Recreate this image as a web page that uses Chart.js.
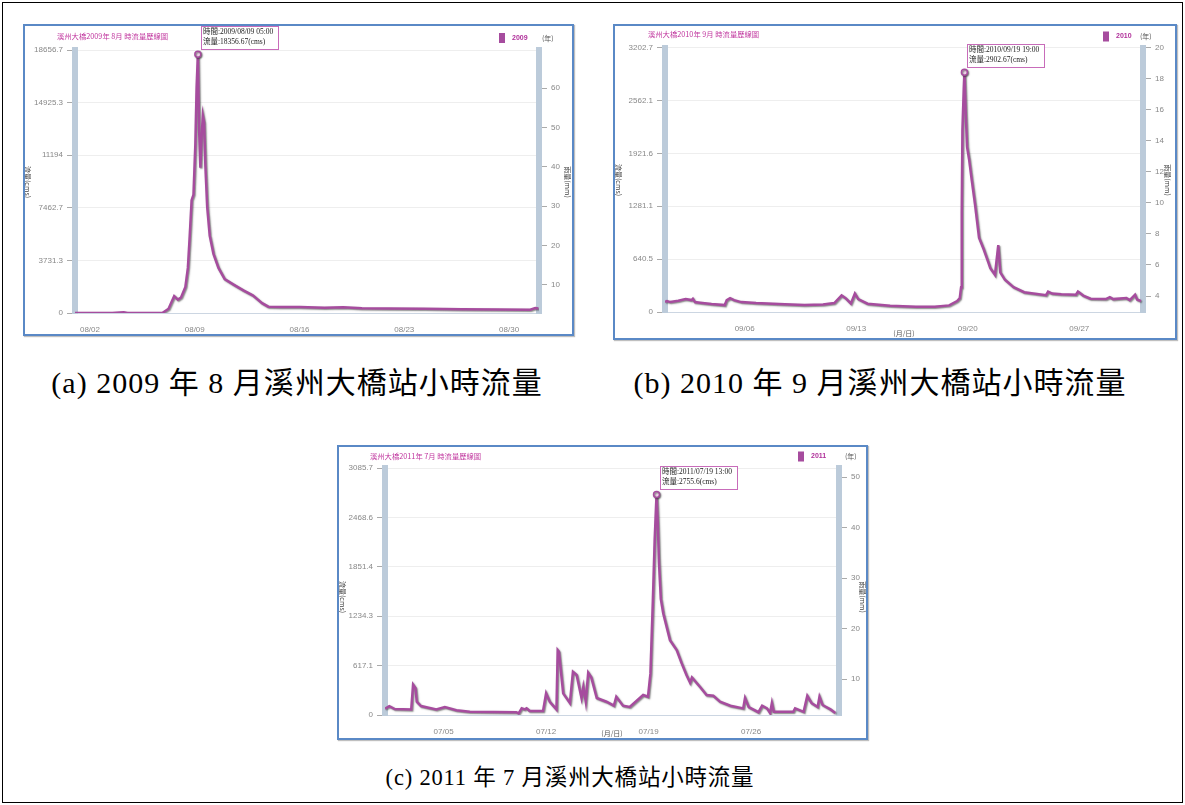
<!DOCTYPE html>
<html>
<head>
<meta charset="utf-8">
<script src="https://cdn.jsdelivr.net/npm/chart.js@4.4.1/dist/chart.umd.min.js"></script>
<style>
body { margin: 0; width: 1185px; height: 805px; background: #fff; position: relative; overflow: hidden; }
.frame { position: absolute; left: 2px; top: 2px; width: 1179px; height: 799px; border: 1px solid #000; }
.box { position: absolute; border: 2px solid #5a89c6; background: #fff; box-shadow: 1px 1px 1px rgba(0,0,0,0.25); }
.box canvas { display: block; }
.cap { position: absolute; white-space: nowrap; transform: translate(-50%, -50%); color: #000;
       font-family: "Liberation Serif", "Noto Sans CJK TC", serif; letter-spacing: 1px; }
</style>
</head>
<body>
<div class="frame"></div>
<div class="box" style="left:23px;top:24px"><canvas id="chartA" width="547" height="308"></canvas></div>
<div class="box" style="left:613px;top:24px"><canvas id="chartB" width="560" height="312"></canvas></div>
<div class="box" style="left:337px;top:445px"><canvas id="chartC" width="527" height="291"></canvas></div>
<div class="cap" style="left:297px;top:380px;font-size:30px">(a) 2009 年 8 月溪州大橋站小時流量</div>
<div class="cap" style="left:880px;top:380px;font-size:30px">(b) 2010 年 9 月溪州大橋站小時流量</div>
<div class="cap" style="left:570px;top:775px;font-size:22.5px;letter-spacing:0.8px">(c) 2011 年 7 月溪州大橋站小時流量</div>
<script>
// 2009/08 hourly flow (hour of month, cms)
const hours2009 = [0, 60, 72, 78, 84, 140, 150, 159, 165, 170, 177, 181, 184, 187, 190, 193, 195, 197, 199, 201, 203, 205, 207, 209, 212, 216, 222, 230, 240, 255, 270, 285, 300, 310, 330, 360, 400, 430, 460, 500, 560, 620, 680, 730, 738, 743];
const flow2009 = [0, 0, 40, 60, 0, 0, 300, 1200, 950, 1100, 1850, 3200, 5500, 8000, 8400, 12000, 16000, 18356.67, 13000, 10300, 12500, 14000, 13500, 10500, 7500, 5500, 4200, 3200, 2400, 2000, 1600, 1250, 700, 450, 420, 430, 380, 400, 330, 320, 300, 270, 250, 230, 350, 320];
const flowTicks2009 = [0, 3731.3, 7462.7, 11194, 14925.3, 18656.7];
const rainTicks2009 = [10, 20, 30, 40, 50, 60];
const rainRange2009 = [2.8, 69.7];
const dayTicks2009 = [24, 192, 360, 528, 696];
const dayLabels2009 = ['08/02', '08/09', '08/16', '08/23', '08/30'];

// 2010/09
const hours2010 = [0, 3, 8, 20, 31, 40, 42, 45, 53, 70, 90, 93, 98, 104, 115, 137, 171, 210, 238, 255, 266, 272, 280, 286, 291, 305, 339, 378, 406, 428, 440, 444, 446, 447, 448, 450, 451, 453, 455, 458, 462, 467, 473, 480, 487, 490, 497, 502, 505, 512, 525, 541, 574, 577, 583, 597, 619, 622, 630, 641, 664, 670, 675, 695, 700, 708, 711, 717];
const flow2010 = [125, 132, 120, 137, 156, 144, 161, 120, 113, 96, 84, 144, 168, 144, 120, 108, 96, 85, 90, 108, 200, 168, 103, 223, 156, 100, 75, 65, 65, 80, 132, 168, 300, 1200, 2200, 2700, 2902.67, 2400, 2000, 1850, 1600, 1300, 900, 760, 600, 530, 450, 810, 480, 390, 300, 240, 204, 247, 223, 214, 209, 247, 199, 161, 156, 180, 156, 168, 144, 209, 151, 132];
const flowTicks2010 = [0, 640.5, 1281.1, 1921.6, 2562.1, 3202.7];
const rainTicks2010 = [4, 6, 8, 10, 12, 14, 16, 18, 20];
const rainRange2010 = [2.97, 20];
const dayTicks2010 = [120, 288, 456, 624];
const dayLabels2010 = ['09/06', '09/13', '09/20', '09/27'];

// 2011/07
const hours2011 = [0, 7, 16, 43, 46, 50, 52, 59, 84, 98, 117, 139, 215, 219, 224, 229, 232, 237, 259, 264, 270, 281, 283, 285, 292, 303, 308, 314, 322, 325, 329, 333, 338, 347, 363, 375, 379, 390, 401, 423, 431, 435, 439, 442, 445, 447, 449, 452, 456, 467, 478, 486, 494, 500, 503, 516, 527, 538, 549, 566, 587, 590, 596, 612, 618, 626, 631, 634, 637, 669, 672, 686, 692, 695, 699, 709, 712, 717, 730, 738];
const flow2011 = [80, 110, 75, 70, 380, 335, 166, 112, 70, 100, 60, 40, 35, 20, 83, 70, 83, 50, 50, 270, 166, 70, 810, 790, 270, 150, 540, 500, 212, 353, 166, 528, 470, 212, 166, 116, 228, 116, 100, 250, 228, 520, 1434, 2200, 2755.6, 2400, 1900, 1450, 1268, 935, 810, 648, 500, 403, 470, 353, 250, 240, 166, 116, 83, 212, 100, 35, 116, 83, 25, 150, 40, 40, 83, 40, 240, 200, 150, 100, 228, 125, 70, 25];
const flowTicks2011 = [0, 617.1, 1234.3, 1851.4, 2468.6, 3085.7];
const rainTicks2011 = [10, 20, 30, 40, 50];
const rainRange2011 = [2.87, 51.8];
const dayTicks2011 = [96, 264, 432, 600];
const dayLabels2011 = ['07/05', '07/12', '07/19', '07/26'];

const SANS = '"Liberation Sans", Arial, sans-serif';
const CJK = '"Noto Sans CJK TC", sans-serif';
const SERIF = '"Liberation Serif", "Noto Sans CJK TC", serif';
const LINE = '#a64c9e';
const PINK = '#c0369e';
const BAR = '#bccbda';

function pad2(n) { return (n < 10 ? '0' : '') + n; }

function verticalText(ctx, text, x, y) {
	ctx.save();
	ctx.translate(x, y);
	ctx.rotate(Math.PI / 2);
	ctx.textAlign = 'center';
	ctx.textBaseline = 'middle';
	ctx.fillText(text, 0, 0);
	ctx.restore();
}

function drawChart(id, s, L) {
	const cv = document.getElementById(id);
	const W = cv.width, H = cv.height;
	const points = s.hours.map((h, i) => ({ x: h, y: s.flow[i] }));
	const peak = s.flow.indexOf(Math.max(...s.flow));
	const ph = s.hours[peak];
	const peakTime = s.year + '/' + s.month + '/' + pad2(1 + Math.floor(ph / 24)) + ' ' + pad2(ph % 24) + ':00';

	const decor = {
		id: 'decor',
		beforeDatasetDraw(chart) {
			const ctx = chart.ctx;
			ctx.save();
			ctx.shadowColor = 'rgba(50,50,50,0.6)';
			ctx.shadowOffsetX = 1;
			ctx.shadowOffsetY = 1;
			ctx.shadowBlur = 1.5;
		},
		afterDatasetDraw(chart) {
			chart.ctx.restore();
		},
		afterDraw(chart) {
			const ctx = chart.ctx;
			ctx.save();
			ctx.textBaseline = 'middle';
			ctx.textAlign = 'left';
			// title
			ctx.font = '7.3px ' + CJK;
			ctx.fillStyle = PINK;
			ctx.fillText('溪州大橋' + s.year + '年 ' + Number(s.month) + '月 時流量歷線圖', L.titleX, L.titleY);
			// legend
			ctx.fillStyle = LINE;
			ctx.fillRect(L.legX, L.legY - 5, 6, 10);
			ctx.font = 'bold 7px ' + SANS;
			ctx.fillStyle = '#b0309a';
			ctx.fillText(s.year, L.legX + 13, L.legY);
			ctx.font = '7px ' + CJK;
			ctx.fillStyle = '#555';
			ctx.fillText('(年)', L.yearX, L.legY);
			// axis titles
			ctx.font = '7px ' + CJK;
			ctx.fillStyle = '#444';
			verticalText(ctx, '流量(cms)', L.flowTitleX, L.axisTitleY);
			verticalText(ctx, '雨量(mm)', L.rainTitleX, L.axisTitleY);
			// tooltip at peak
			const pt = chart.getDatasetMeta(0).data[peak];
			const bx = Math.round(pt.x) + 3, by = Math.round(pt.y) - 28;
			ctx.fillStyle = 'rgba(255,255,255,0.92)';
			ctx.fillRect(bx, by, 77, 23);
			ctx.strokeStyle = '#c86cba';
			ctx.lineWidth = 1;
			ctx.strokeRect(bx + 0.5, by + 0.5, 77, 23);
			ctx.font = '7.5px ' + SERIF;
			ctx.fillStyle = '#222';
			ctx.fillText('時間:' + peakTime, bx + 2, by + 6.5);
			ctx.fillText('流量:' + s.flow[peak] + '(cms)', bx + 2, by + 16);
			ctx.restore();
		}
	};

	new Chart(cv, {
		type: 'line',
		data: {
			datasets: [{
				data: points,
				borderColor: LINE,
				borderWidth: 2.5,
				tension: 0,
				pointRadius: c => c.dataIndex === peak ? 3 : 0,
				pointBorderColor: LINE,
				pointBackgroundColor: '#f4d8ee',
				pointBorderWidth: 1.5
			}]
		},
		options: {
			responsive: false,
			animation: false,
			layout: { padding: { top: L.top, left: 0, right: 0, bottom: 0 } },
			plugins: { legend: { display: false }, tooltip: { enabled: false } },
			scales: {
				x: {
					type: 'linear', min: 0, max: s.xMax, bounds: 'data',
					grid: { display: false },
					border: { color: '#ccd6e2', width: 1 },
					ticks: {
						font: { size: 8, family: SANS }, color: '#888', padding: 4,
						maxRotation: 0, autoSkip: false,
						callback: (v, i) => s.dayLabels[i]
					},
					afterBuildTicks: sc => { sc.ticks = s.dayTicks.map(v => ({ value: v })); },
					afterFit: sc => { sc.height = H - L.bottom; },
					title: {
						display: L.xTitle, text: '(月/日)', color: '#555',
						font: { size: 7, family: CJK }, padding: { top: 0, bottom: 0 }
					}
				},
				y: {
					position: 'left', min: 0, max: s.flowTicks[s.flowTicks.length - 1], bounds: 'data',
					grid: { color: '#eeeeee', tickColor: '#aaa', tickLength: 8 },
					border: { color: BAR, width: 6 },
					ticks: {
						font: { size: 8, family: SANS }, color: '#888', padding: 4,
						callback: (v, i) => String(s.flowTicks[i])
					},
					afterBuildTicks: sc => { sc.ticks = s.flowTicks.map(v => ({ value: v })); },
					afterFit: sc => { sc.width = L.left; }
				},
				y1: {
					position: 'right', min: s.rainRange[0], max: s.rainRange[1], bounds: 'data',
					grid: { drawOnChartArea: false, tickColor: '#aaa', tickLength: 8 },
					border: { color: BAR, width: 6 },
					ticks: {
						font: { size: 8, family: SANS }, color: '#888', padding: 4,
						callback: (v, i) => String(s.rainTicks[i])
					},
					afterBuildTicks: sc => { sc.ticks = s.rainTicks.map(v => ({ value: v })); },
					afterFit: sc => { sc.width = W - L.right; }
				}
			}
		},
		plugins: [decor]
	});
}

drawChart('chartA', {
	year: '2009', month: '08', hours: hours2009, flow: flow2009, xMax: 744,
	flowTicks: flowTicks2009, rainTicks: rainTicks2009, rainRange: rainRange2009,
	dayTicks: dayTicks2009, dayLabels: dayLabels2009
}, { left: 50, right: 514, top: 24, bottom: 287, xTitle: false,
	titleX: 32, titleY: 10, legX: 474, legY: 12, yearX: 517,
	flowTitleX: 3, rainTitleX: 543, axisTitleY: 156 });

drawChart('chartB', {
	year: '2010', month: '09', hours: hours2010, flow: flow2010, xMax: 720,
	flowTicks: flowTicks2010, rainTicks: rainTicks2010, rainRange: rainRange2010,
	dayTicks: dayTicks2010, dayLabels: dayLabels2010
}, { left: 50, right: 528, top: 21.5, bottom: 286, xTitle: true,
	titleX: 33, titleY: 8, legX: 488, legY: 10.5, yearX: 525,
	flowTitleX: 4, rainTitleX: 553, axisTitleY: 154 });

drawChart('chartC', {
	year: '2011', month: '07', hours: hours2011, flow: flow2011, xMax: 744,
	flowTicks: flowTicks2011, rainTicks: rainTicks2011, rainRange: rainRange2011,
	dayTicks: dayTicks2011, dayLabels: dayLabels2011
}, { left: 46, right: 500, top: 21, bottom: 268, xTitle: true,
	titleX: 31, titleY: 9, legX: 459, legY: 9.5, yearX: 506,
	flowTitleX: 4, rainTitleX: 524, axisTitleY: 150 });
</script>
</body>
</html>
